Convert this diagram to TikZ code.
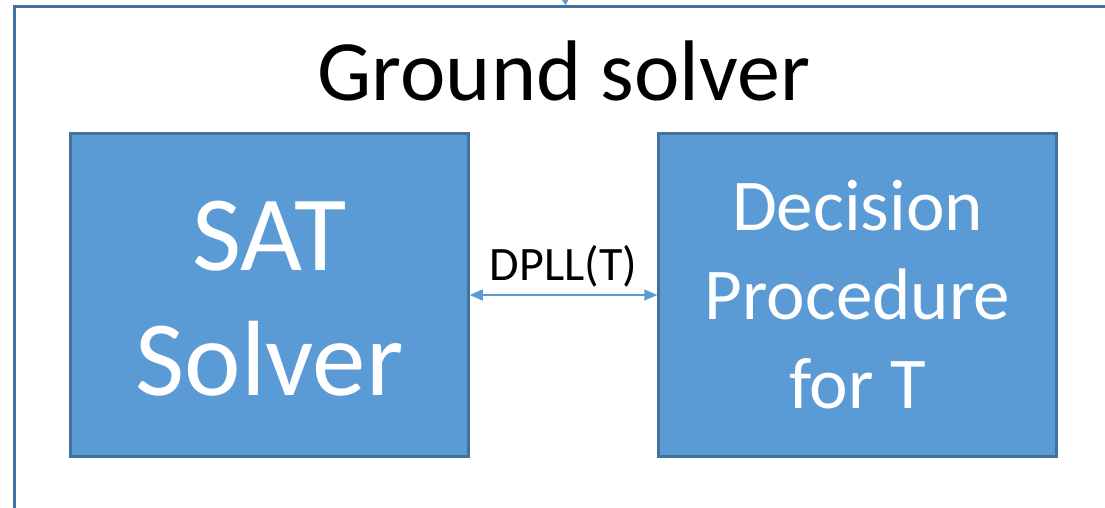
\documentclass[tikz,border=0pt]{standalone}
\usepackage{fontspec}
\setmainfont{Carlito}
\usetikzlibrary{arrows.meta}
\definecolor{boxblue}{HTML}{5B9BD5}
\definecolor{edgeblue}{HTML}{41719C}
\newcommand{\fsz}[2]{\fontsize{#1}{#2}\selectfont}
\tikzset{
  solverbox/.style={draw=edgeblue, line width=2.5pt, fill=boxblue, text=white,
    minimum width=398pt, minimum height=323pt, align=center, inner sep=0pt},
  link/.style={draw=boxblue, line width=1.4pt, {Triangle[length=13pt,width=11pt]}-{Triangle[length=13pt,width=11pt]}}
}

\begin{document}
\begin{tikzpicture}[x=1pt, y=-1pt]
			\useasboundingbox (0,0) rectangle (1105,508);
			\fill[white] (0,0) rectangle (1105,508);
			% outer frame
			\node[draw=edgeblue, line width=2.8pt, minimum width=1102pt, minimum height=520pt, inner sep=0pt,
			      anchor=north west] (ground) at (13,5) {};
			\coordinate (feed) at (564,-40);
			\draw[draw=boxblue, line width=1.4pt, -{Triangle[length=8pt,width=10pt]}] (feed) -- (ground.north);
			%
			\node[font=\fsz{86pt}{102pt}] (title)	at	(564, 71)	{Ground solver};
			%
			\node[solverbox] (sat)	at	(269.5, 295)	{};
			\node[text=white, align=center, font=\fsz{107pt}{125pt}] (satlbl) at (269.5, 299) {SAT\\Solver};
			\node[solverbox, font=\fsz{73pt}{89pt}] (dp)	at	(857.5, 295)	{Decision\\Procedure\\for T};
			%
			\draw[link] (sat) -- node[above=4pt, font=\fsz{48pt}{56pt}] (dpll) {DPLL(T)} (dp);
		\end{tikzpicture}
\end{document}
